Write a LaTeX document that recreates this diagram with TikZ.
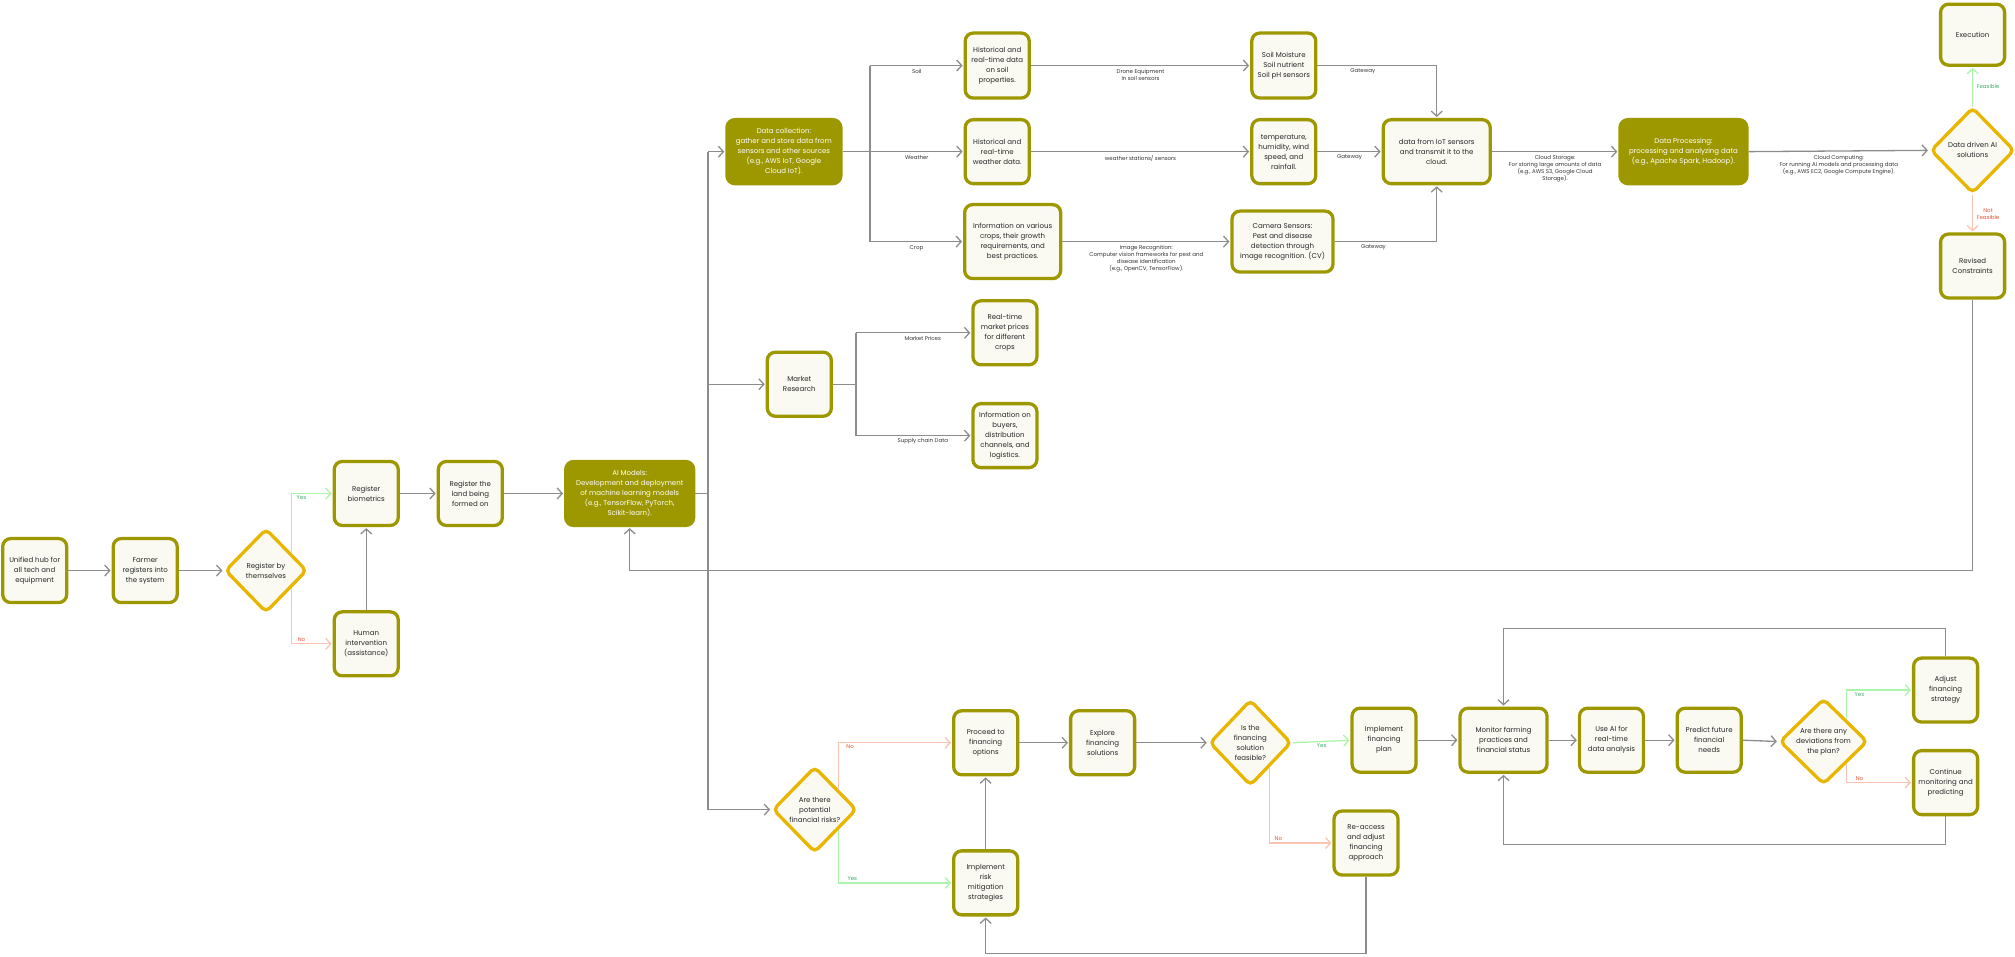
\documentclass[tikz,border=0pt]{standalone}
\usepackage{fontspec}
\setmainfont{Poppins}
\usetikzlibrary{arrows.meta,shapes.geometric,calc}
\definecolor{oliv}{RGB}{158,152,0}
\definecolor{boxfill}{RGB}{250,250,243}
\definecolor{gold}{RGB}{232,182,0}
\definecolor{gline}{RGB}{140,140,140}
\definecolor{yesline}{RGB}{170,245,170}
\definecolor{yestext}{RGB}{60,170,110}
\definecolor{noline}{RGB}{250,195,180}
\definecolor{notext}{RGB}{230,80,50}
\tikzset{
 procbox/.style={draw=oliv, line width=3.3pt, fill=boxfill, rounded corners=8pt, minimum width=64pt, minimum height=64pt, align=center, inner sep=2pt, font=\fontsize{7}{10}\selectfont, text=black!85},
 filledbox/.style={procbox, fill=oliv, text=white},
 dia/.style={diamond, draw=gold, line width=3.3pt, fill=boxfill, rounded corners=5pt, minimum width=84pt, minimum height=86pt, inner sep=0pt},
 dtext/.style={align=center, font=\fontsize{7}{10}\selectfont, text=black!85},
 conn/.style={draw=gline, line width=1.3pt},
 arr/.style={conn, -{Straight Barb[length=5pt, width=11pt, line width=1.3pt]}, shorten >=1pt},
 yarr/.style={arr, draw=yesline},
 narr/.style={arr, draw=noline},
 lbl/.style={font=\fontsize{5.5}{7}\selectfont, align=center, text=black!80, inner sep=1.5pt},
 ylbl/.style={lbl, text=yestext},
 nlbl/.style={lbl, text=notext},
}
\begin{document}
\begin{tikzpicture}[x=1.2851pt, y=-1.2851pt]
\useasboundingbox (0,0) rectangle (1568,744);
% ---------- nodes ----------
\node[procbox] (hub) at (27,444) {Unified hub for\\all tech and\\equipment};
\node[procbox] (farmer) at (113,444) {Farmer\\registers into\\the system};
\node[dia, minimum width=82pt, minimum height=84pt, label={[dtext]center:{Register by\\themselves}}] (regself) at (207,444) {};
\node[procbox] (bio) at (285,384) {Register\\biometrics};
\node[procbox] (human) at (285,501) {Human\\intervention\\(assistance)};
\node[procbox] (land) at (366,384) {Register the\\land being\\formed on};
\node[filledbox, minimum width=128pt] (ai) at (490,384) {AI Models:\\Development and deployment\\of machine learning models\\(e.g., TensorFlow, PyTorch,\\Scikit-learn).};
\node[filledbox, minimum width=114pt] (datacoll) at (610,118) {Data collection:\\gather and store data from\\sensors and other sources\\(e.g., AWS IoT, Google\\Cloud IoT).};
\node[procbox, minimum height=65pt] (hsoil) at (776,51) {Historical and\\real-time data\\on soil\\properties.};
\node[procbox] (hweather) at (776,118) {Historical and\\real-time\\weather data.};
\node[procbox, minimum width=96pt, minimum height=74pt] (hcrop) at (788,188) {Information on various\\crops, their growth\\requirements, and\\best practices.};
\node[procbox, minimum height=65pt] (soilsens) at (999,51) {Soil Moisture\\Soil nutrient\\Soil pH sensors};
\node[procbox] (tempsens) at (999,118) {temperature,\\humidity, wind\\speed, and\\rainfall.};
\node[procbox, minimum width=101pt, minimum height=61pt] (camsens) at (998,188) {Camera Sensors:\\Pest and disease\\detection through\\image recognition. (CV)};
\node[procbox, minimum width=107pt] (iot) at (1118,118) {data from IoT sensors\\and transmit it to the\\cloud.};
\node[filledbox, minimum width=127pt] (dataproc) at (1310,118) {Data Processing:\\processing and analyzing data\\(e.g., Apache Spark, Hadoop).};
\node[dia, label={[dtext]center:{Data driven AI\\solutions}}] (aidiam) at (1535,117) {};
\node[procbox, minimum height=61pt] (exec) at (1535,27) {Execution};
\node[procbox] (revised) at (1535,207) {Revised\\Constraints};
\node[procbox] (market) at (622,299) {Market\\Research};
\node[procbox] (mprice) at (782,259) {Real-time\\market prices\\for different\\crops};
\node[procbox] (buyers) at (782,339) {Information on\\buyers,\\distribution\\channels, and\\logistics.};
\node[dia, label={[dtext]center:{Are there\\potential\\financial risks?}}] (risks) at (634,630) {};
\node[procbox] (proceed) at (767,578) {Proceed to\\financing\\options};
\node[procbox] (explore) at (858,578) {Explore\\financing\\solutions};
\node[dia, minimum width=82pt, label={[dtext]center:{Is the\\financing\\solution\\feasible?}}] (feasible) at (973,578) {};
\node[procbox] (implplan) at (1077,576) {Implement\\financing\\plan};
\node[procbox] (reaccess) at (1063,656) {Re-access\\and adjust\\financing\\approach};
\node[procbox] (mitig) at (767,687) {Implement\\risk\\mitigation\\strategies};
\node[procbox, minimum width=87pt] (monitor) at (1170,576) {Monitor farming\\practices and\\financial status};
\node[procbox] (useai) at (1254,576) {Use AI for\\real-time\\data analysis};
\node[procbox] (predict) at (1330,576) {Predict future\\financial\\needs};
\node[dia, minimum width=88pt, label={[dtext]center:{Are there any\\deviations from\\the plan?}}] (deviation) at (1419,577) {};
\node[procbox] (adjust) at (1514,537) {Adjust\\financing\\strategy};
\node[procbox] (continue) at (1514,609) {Continue\\monitoring and\\predicting};
% ---------- helper coordinates ----------
\coordinate (tx) at (551,118);
\coordinate (bx) at (677,118);
\coordinate (mx) at (666,299);
\coordinate (ly) at (0,444);
\coordinate (by) at (0,742);
\coordinate (ty) at (0,489);
\coordinate (bty) at (0,657);
% ---------- connectors: registration ----------
\draw[arr] (hub.east) -- (farmer.west);
\draw[arr] (farmer.east) -- (regself.west);
\draw[yarr] ($(regself.east)!0.4!(regself.north)$) |- node[ylbl, pos=0.62, below] (ly1) {Yes} (bio.west);
\draw[narr] ($(regself.east)!0.4!(regself.south)$) |- node[nlbl, pos=0.62, above] (ln1) {No} (human.west);
\draw[arr] (human.north) -- (bio.south);
\draw[arr] (bio.east) -- (land.west);
\draw[arr] (land.east) -- (ai.west);
% ---------- trunk ----------
\draw[conn] (ai.east) -- (ai.east -| tx);
\draw[conn] (tx |- datacoll.west) -- (tx |- risks.west);
\draw[arr] (tx |- datacoll.west) -- (datacoll.west);
\draw[arr] (tx |- market.west) -- (market.west);
\draw[arr] (tx |- risks.west) -- (risks.west);
% ---------- data collection ----------
\draw[conn] (datacoll.east) -- (datacoll.east -| bx);
\draw[conn] (bx |- hsoil.west) -- (bx |- hcrop.west);
\draw[arr] (bx |- hsoil.west) -- node[lbl, below=2pt] (lsoil) {Soil} (hsoil.west);
\draw[arr] (bx |- hweather.west) -- node[lbl, below=2pt] (lweather) {Weather} (hweather.west);
\draw[arr] (bx |- hcrop.west) -- node[lbl, below=2pt] (lcrop) {Crop} (hcrop.west);
\draw[arr] (hsoil.east) -- node[lbl, below=2pt] (ldrone) {Drone Equipment\\In soil sensors} (soilsens.west);
\draw[arr] (hweather.east) -- node[lbl, below=2pt] (lws) {weather stations/ sensors} (tempsens.west);
\draw[arr] (hcrop.east) -- node[lbl, below=2pt] (limg) {Image Recognition:\\Computer vision frameworks for pest and\\disease identification\\(e.g., OpenCV, TensorFlow).} (camsens.west);
\draw[arr] (soilsens.east) -| node[lbl, pos=0.19, below=1pt] (lg1) {Gateway} (iot.north);
\draw[arr] (tempsens.east) -- node[lbl, below=1pt] (lg2) {Gateway} (iot.west);
\draw[arr] (camsens.east) -| node[lbl, pos=0.19, below=1pt] (lg3) {Gateway} (iot.south);
\draw[arr] (iot.east) -- node[lbl, below=2pt] (lcs) {Cloud Storage:\\For storing large amounts of data\\(e.g., AWS S3, Google Cloud\\Storage).} (dataproc.west);
\draw[arr] (dataproc.east) -- node[lbl, below=2pt] (lcc) {Cloud Computing:\\For running AI models and processing data\\(e.g., AWS EC2, Google Compute Engine).} (aidiam.west);
\draw[yarr] (aidiam.north) -- node[ylbl, right=2pt] (lfeas) {Feasible} (exec.south);
\draw[narr] (aidiam.south) -- node[nlbl, right=2pt] (lnfeas) {Not\\Feasible} (revised.north);
\draw[arr] (revised.south) -- (revised.south |- ly) -| (ai.south);
% ---------- market ----------
\draw[conn] (market.east) -- (market.east -| mx);
\draw[conn] (mx |- mprice.west) -- (mx |- buyers.west);
\draw[arr] (mx |- mprice.west) -- node[lbl, below=1pt, pos=0.58] (lmp) {Market Prices} (mprice.west);
\draw[arr] (mx |- buyers.west) -- node[lbl, below=1pt, pos=0.58] (lsc) {Supply chain Data} (buyers.west);
% ---------- financing ----------
\draw[narr] ($(risks.east)!0.45!(risks.north)$) |- node[nlbl, pos=0.55, below] (ln2) {No} (proceed.west);
\draw[yarr] ($(risks.east)!0.45!(risks.south)$) |- node[ylbl, pos=0.56, above] (ly2) {Yes} (mitig.west);
\draw[arr] (mitig.north) -- (proceed.south);
\draw[arr] (proceed.east) -- (explore.west);
\draw[arr] (explore.east) -- (feasible.west);
\draw[yarr] (feasible.east) -- node[ylbl, below] (ly3) {Yes} (implplan.west);
\draw[narr] ($(feasible.east)!0.55!(feasible.south)$) |- node[nlbl, pos=0.57, above] (ln3) {No} (reaccess.west);
\draw[arr] (reaccess.south) -- (reaccess.south |- by) -| (mitig.south);
\draw[arr] (implplan.east) -- (monitor.west);
\draw[arr] (monitor.east) -- (useai.west);
\draw[arr] (useai.east) -- (predict.west);
\draw[arr] (predict.east) -- (deviation.west);
\draw[yarr] ($(deviation.east)!0.5!(deviation.north)$) |- node[ylbl, pos=0.6, below] (ly4) {Yes} (adjust.west);
\draw[narr] ($(deviation.east)!0.5!(deviation.south)$) |- node[nlbl, pos=0.6, above] (ln4) {No} (continue.west);
\draw[arr] (adjust.north) -- (adjust.north |- ty) -| (monitor.north);
\draw[arr] (continue.south) -- (continue.south |- bty) -| (monitor.south);
\end{tikzpicture}
\end{document}
